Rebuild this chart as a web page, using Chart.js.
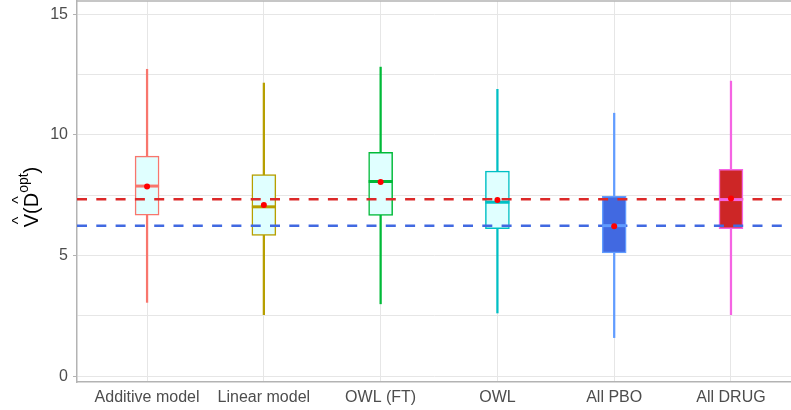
<!DOCTYPE html>
<html>
<head>
<meta charset="utf-8">
<script src="https://cdn.jsdelivr.net/npm/chart.js@4.4.1/dist/chart.umd.min.js"></script>
<style>
  body { margin: 0; background: #fff; }
  canvas { display: block; }
</style>
</head>
<body>
<canvas id="boxChart" width="791" height="410"></canvas>
<script>
// data
var categories = ["Additive model", "Linear model", "OWL (FT)", "OWL", "All PBO", "All DRUG"];
var whiskerLow = [3.06, 2.55, 3.0, 2.62, 1.6, 2.55];
var boxLow = [6.67, 5.83, 6.66, 6.11, 5.11, 6.11];
var medians = [7.88, 7.02, 8.07, 7.21, 6.24, 7.32];
var boxHigh = [9.12, 8.36, 9.28, 8.5, 7.46, 8.57];
var whiskerHigh = [12.72, 12.15, 12.81, 11.89, 10.9, 12.23];
var means = [7.86, 7.1, 8.05, 7.3, 6.22, 7.37];
var refDrug = 7.33;
var refPbo = 6.24;
var yTicks = [0, 2.5, 5, 7.5, 10, 12.5, 15];

var lineColors = ["#F8766D", "#B79F00", "#00BA38", "#00BFC4", "#619CFF", "#F564E3"];
var boxFills = ["#E0FFFF", "#E0FFFF", "#E0FFFF", "#E0FFFF", "#4169E1", "#CD2626"];
var font = '"Liberation Sans", Arial, Helvetica, sans-serif';

function pts(vals) {
  return vals.map(function (v, i) { return { x: i, y: v }; });
}
function ranges(lo, hi) {
  return lo.map(function (v, i) { return { x: i, y: [v, hi[i]] }; });
}
function hline(y) {
  return [{ x: -0.6, y: y }, { x: 5.6, y: y }];
}
// no extra room for edge labels, the panel runs to the canvas edge
function noPad(scale) {
  scale.paddingLeft = 0;
  scale.paddingRight = 0;
  scale.paddingTop = 0;
  scale.paddingBottom = 0;
}

// y axis title V^(D^opt) drawn as text
var yTitle = {
  id: "yTitle",
  afterDraw: function (chart) {
    var ctx = chart.ctx;
    var big = "20px " + font;
    var small = "14px " + font;
    var hat = "16px " + font;
    var parts = [
      { t: "V", f: big, hat: true },
      { t: "(", f: big },
      { t: "D", f: big, hat: true },
      { t: "opt", f: small, dy: -10 },
      { t: ")", f: big },
    ];
    var total = 0;
    parts.forEach(function (p) {
      ctx.font = p.f;
      p.w = ctx.measureText(p.t).width;
      total += p.w;
    });
    ctx.save();
    ctx.translate(38, 197);
    ctx.rotate(-Math.PI / 2);
    ctx.fillStyle = "#000";
    ctx.textBaseline = "alphabetic";
    var x = -total / 2;
    parts.forEach(function (p) {
      ctx.font = p.f;
      ctx.textAlign = "left";
      ctx.fillText(p.t, x, p.dy || 0);
      if (p.hat) {
        ctx.font = hat;
        ctx.textAlign = "center";
        ctx.fillText("^", x + p.w / 2, -14);
      }
      x += p.w;
    });
    ctx.restore();
  },
};

// top edge of the panel frame
var topBorder = {
  id: "topBorder",
  afterDraw: function (chart) {
    var a = chart.chartArea;
    var ctx = chart.ctx;
    ctx.save();
    ctx.strokeStyle = "#B3B3B3";
    ctx.lineWidth = 1.3;
    ctx.beginPath();
    ctx.moveTo(a.left, a.top);
    ctx.lineTo(a.right, a.top);
    ctx.stroke();
    ctx.restore();
  },
};

var config = {
  type: "bar",
  data: {
    datasets: [
      {
        type: "line",
        data: pts(means),
        showLine: false,
        pointRadius: 3,
        pointBackgroundColor: "#FF0000",
        pointBorderWidth: 0,
        order: 0,
      },
      {
        type: "line",
        data: pts(medians),
        showLine: false,
        pointStyle: "line",
        pointRadius: 12,
        pointBorderWidth: 3,
        pointBorderColor: lineColors,
        order: 1,
      },
      {
        type: "line",
        data: hline(refDrug),
        borderColor: "#DC2828",
        borderWidth: 2.5,
        borderDash: [10, 9.3],
        pointRadius: 0,
        order: 2,
      },
      {
        type: "line",
        data: hline(refPbo),
        borderColor: "#4169E1",
        borderWidth: 2.5,
        borderDash: [10, 9.3],
        pointRadius: 0,
        order: 2,
      },
      {
        type: "bar",
        data: ranges(boxLow, boxHigh),
        backgroundColor: boxFills,
        borderColor: lineColors,
        borderWidth: 1.5,
        borderSkipped: false,
        barThickness: 24,
        grouped: false,
        order: 3,
      },
      {
        type: "bar",
        data: ranges(whiskerLow, whiskerHigh),
        backgroundColor: lineColors,
        borderWidth: 0,
        barThickness: 1.6,
        grouped: false,
        order: 4,
      },
    ],
  },
  options: {
    responsive: false,
    animation: false,
    devicePixelRatio: 1,
    events: [],
    layout: { autoPadding: false, padding: { top: 1, right: 0, bottom: 0, left: 0 } },
    plugins: {
      legend: { display: false },
      tooltip: { enabled: false },
    },
    scales: {
      x: {
        type: "linear",
        offset: false,
        min: -0.6,
        max: 5.514,
        afterBuildTicks: function (scale) {
          scale.ticks = categories.map(function (c, i) { return { value: i }; });
        },
        afterFit: function (scale) { scale.height = 28; noPad(scale); },
        grid: { color: "#E6E6E6", lineWidth: 1, drawTicks: false, offset: false },
        border: { color: "#B3B3B3", width: 1.5 },
        ticks: {
          autoSkip: false,
          maxRotation: 0,
          padding: 6,
          color: "#4D4D4D",
          font: { family: font, size: 16 },
          callback: function (v) { return categories[v]; },
        },
      },
      y: {
        min: -0.24,
        max: 15.55,
        afterBuildTicks: function (scale) {
          scale.ticks = yTicks.map(function (v) { return { value: v }; });
        },
        afterFit: function (scale) { scale.width = 77; noPad(scale); },
        grid: {
          color: "#E6E6E6",
          lineWidth: 1,
          tickLength: 4,
          tickColor: function (c) { return c.tick && c.tick.value % 5 === 0 ? "#B3B3B3" : "rgba(0,0,0,0)"; },
        },
        border: { color: "#B3B3B3", width: 1.5 },
        ticks: {
          padding: 5,
          color: "#4D4D4D",
          font: { family: font, size: 16 },
          callback: function (v) { return v % 5 === 0 ? String(v) : ""; },
        },
      },
    },
  },
  plugins: [yTitle, topBorder],
};

var boxChart = new Chart(document.getElementById("boxChart"), config);
</script>
</body>
</html>
